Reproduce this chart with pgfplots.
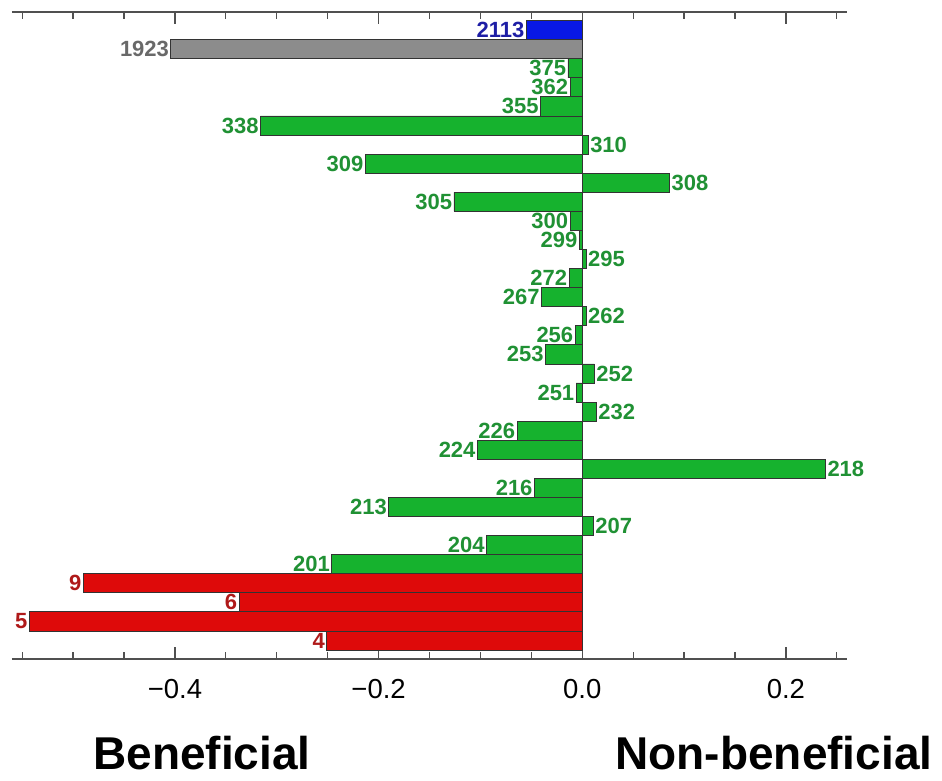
\documentclass[border=0pt]{standalone}
\usepackage{fontspec}
\setmainfont{Liberation Sans}
\usepackage{pgfplots}
\pgfplotsset{compat=1.18}

\definecolor{barblue}{RGB}{8,24,230}
\definecolor{bargray}{RGB}{140,140,140}
\definecolor{bargreen}{RGB}{22,178,46}
\definecolor{barred}{RGB}{222,10,10}
\definecolor{lblblue}{RGB}{30,30,165}
\definecolor{lblgray}{RGB}{105,105,105}
\definecolor{lblgreen}{RGB}{32,145,52}
\definecolor{lblred}{RGB}{175,25,25}
\definecolor{axisgray}{RGB}{80,80,80}

\begin{document}
\begin{tikzpicture}
\begin{axis}[
  scale only axis, width=835pt, height=647pt,
  xmin=-0.560, xmax=0.260, ymin=0.03, ymax=33.95,
  xbar, bar width=1, bar shift=0pt,
  axis x line=box, axis y line=none,
  xtick={-0.4,-0.2,0,0.2},
  xticklabels={−0.4,−0.2,0.0,0.2},
  minor xtick={-0.55,-0.5,-0.45,-0.35,-0.3,-0.25,-0.15,-0.1,-0.05,0.05,0.1,0.15,0.25},
  ytick=\empty,
  xtick pos=both, xticklabel pos=lower,
  tick align=inside,
  major tick length=12pt, minor tick length=7pt,
  every tick/.style={axisgray, line width=1.2pt},
  x axis line style={axisgray, line width=1.3pt},
  xticklabel style={font=\fontsize{27.5}{30}\selectfont, yshift=-17pt},
  point meta=explicit symbolic,
  nodes near coords,
  every node near coord/.append style={font=\fontsize{22}{23}\bfseries\selectfont,
    inner xsep=1.5pt, inner ysep=0pt},
  clip=false,
]
% blue reference bar
\addplot[fill=barblue, draw=black!80, line width=0.8pt,
  every node near coord/.append style={anchor=east, text=lblblue}]
  table[x=val, y=y, meta=id] {
y val id
33 -0.055 2113
};
% gray reference bar
\addplot[fill=bargray, draw=black!80, line width=0.8pt,
  every node near coord/.append style={anchor=east, text=lblgray}]
  table[x=val, y=y, meta=id] {
y val id
32 -0.404 1923
};
% green bars, negative side
\addplot[fill=bargreen, draw=black!80, line width=0.8pt,
  every node near coord/.append style={anchor=east, text=lblgreen}]
  table[x=val, y=y, meta=id] {
y val id
31 -0.014 375
30 -0.012 362
29 -0.041 355
28 -0.316 338
26 -0.213 309
24 -0.126 305
23 -0.012 300
22 -0.003 299
20 -0.013 272
19 -0.040 267
17 -0.007 256
16 -0.036 253
14 -0.006 251
12 -0.064 226
11 -0.103 224
9 -0.047 216
8 -0.190 213
6 -0.094 204
5 -0.246 201
};
% green bars, positive side
\addplot[fill=bargreen, draw=black!80, line width=0.8pt,
  every node near coord/.append style={anchor=west, text=lblgreen}]
  table[x=val, y=y, meta=id] {
y val id
27 0.006 310
25 0.086 308
21 0.004 295
18 0.004 262
15 0.012 252
13 0.014 232
10 0.239 218
7 0.011 207
};
% red bars
\addplot[fill=barred, draw=black!80, line width=0.8pt,
  every node near coord/.append style={anchor=east, text=lblred}]
  table[x=val, y=y, meta=id] {
y val id
4 -0.490 9
3 -0.337 6
2 -0.543 5
1 -0.251 4
};
\end{axis}
\node[anchor=base, inner sep=0pt, font=\fontsize{46}{50}\bfseries\selectfont]
  at ([xshift=190pt,yshift=-110pt]current axis.south west) {Beneficial};
\node[anchor=base, inner sep=0pt, font=\fontsize{46}{50}\bfseries\selectfont]
  at ([xshift=762pt,yshift=-110pt]current axis.south west) {Non-beneficial};
\path ([xshift=-12pt,yshift=-121pt]current axis.south west) rectangle ++(942pt,780pt);
\end{tikzpicture}
\end{document}
